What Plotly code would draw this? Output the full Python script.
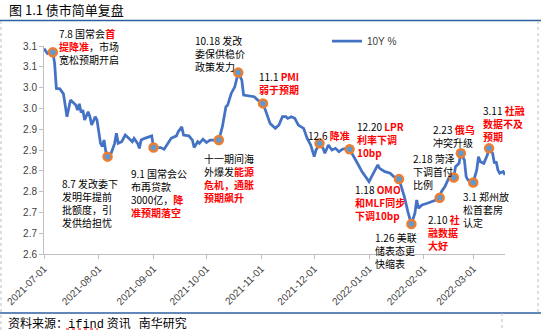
import plotly.graph_objects as go

# ---------------- data ----------------
dates = ["2021-07-01","2021-07-03","2021-07-04","2021-07-06","2021-07-07","2021-07-08","2021-07-10","2021-07-12",
         "2021-07-14","2021-07-16","2021-07-19","2021-07-20","2021-07-21","2021-07-22","2021-07-23","2021-07-24",
         "2021-07-26","2021-07-27","2021-07-28","2021-07-29","2021-07-30","2021-07-31","2021-08-02","2021-08-03",
         "2021-08-04","2021-08-05","2021-08-06","2021-08-07","2021-08-08","2021-08-10","2021-08-11","2021-08-12",
         "2021-08-14","2021-08-16","2021-08-18","2021-08-20","2021-08-21","2021-08-23","2021-08-24","2021-08-25",
         "2021-08-27","2021-08-29","2021-08-31","2021-09-01","2021-09-05","2021-09-07","2021-09-09","2021-09-11",
         "2021-09-14","2021-09-15","2021-09-17","2021-09-18","2021-09-21","2021-09-23","2021-09-24","2021-09-26",
         "2021-09-27","2021-09-29","2021-10-01","2021-10-03","2021-10-08","2021-10-10","2021-10-12","2021-10-13",
         "2021-10-15","2021-10-17","2021-10-19","2021-10-21","2021-10-22","2021-10-25","2021-10-28","2021-10-30",
         "2021-11-02","2021-11-04","2021-11-06","2021-11-09","2021-11-11","2021-11-13","2021-11-15","2021-11-16",
         "2021-11-18","2021-11-20","2021-11-22","2021-11-25","2021-11-27","2021-11-29","2021-12-01","2021-12-02",
         "2021-12-04","2021-12-06","2021-12-07","2021-12-09","2021-12-11","2021-12-13","2021-12-15","2021-12-17",
         "2021-12-19","2021-12-21","2021-12-23","2021-12-26","2021-12-28","2021-12-30","2022-01-01","2022-01-03",
         "2022-01-06","2022-01-07","2022-01-10","2022-01-13","2022-01-15","2022-01-18","2022-01-21","2022-01-23",
         "2022-01-25","2022-01-27","2022-01-28","2022-01-29","2022-01-31","2022-02-03","2022-02-06","2022-02-08",
         "2022-02-10","2022-02-11","2022-02-13","2022-02-16","2022-02-18","2022-02-19","2022-02-21","2022-02-22",
         "2022-02-24","2022-02-25","2022-02-26","2022-03-01","2022-03-03","2022-03-04","2022-03-05","2022-03-07",
         "2022-03-09","2022-03-10","2022-03-12","2022-03-13","2022-03-14","2022-03-15","2022-03-16","2022-03-18",
         "2022-03-19"]
values = [3.094,3.082,3.084,3.085,3.059,2.998,2.997,2.985,
          2.930,2.970,2.958,2.946,2.961,2.940,2.946,2.922,
          2.942,2.930,2.910,2.922,2.930,2.922,2.866,2.858,
          2.874,2.846,2.834,2.830,2.842,2.866,2.890,2.866,
          2.870,2.886,2.878,2.870,2.878,2.866,2.854,2.874,
          2.878,2.881,2.884,2.856,2.856,2.852,2.866,2.878,
          2.884,2.894,2.906,2.886,2.884,2.874,2.856,2.870,
          2.866,2.876,2.868,2.874,2.874,2.906,2.954,2.958,
          2.986,3.002,3.036,3.018,2.982,2.980,2.978,2.970,
          2.962,2.938,2.914,2.902,2.910,2.930,2.930,2.926,
          2.930,2.926,2.910,2.902,2.878,2.862,2.834,2.850,
          2.866,2.854,2.842,2.862,2.850,2.854,2.846,2.852,
          2.854,2.852,2.838,2.814,2.798,2.786,2.774,2.790,
          2.814,2.806,2.798,2.794,2.786,2.780,2.738,2.702,
          2.672,2.698,2.730,2.710,2.718,2.722,2.726,2.730,
          2.735,2.750,2.762,2.790,2.784,2.810,2.818,2.842,
          2.826,2.786,2.778,2.772,2.802,2.834,2.822,2.818,
          2.838,2.854,2.842,2.818,2.822,2.802,2.794,2.798,
          2.790]

event_dates = ["2021-07-06","2021-08-06","2021-09-01","2021-10-08","2021-10-19","2021-11-02","2021-12-04",
               "2021-12-21","2022-01-18","2022-01-25","2022-02-10","2022-02-18","2022-02-22","2022-03-01",
               "2022-03-10"]

y_tickvals = [2.60, 2.65, 2.70, 2.75, 2.80, 2.85, 2.90, 2.95, 3.00, 3.05, 3.10]
y_ticktext = ["2.6", "2.7", "2.7", "2.8", "2.8", "2.9", "2.9", "3.0", "3.0", "3.1", "3.1"]
x_tickvals = ["2021-07-01","2021-08-01","2021-09-01","2021-10-01","2021-11-01","2021-12-01",
              "2022-01-01","2022-02-01","2022-03-01"]
x_ticktext = ["2021-07-01","2021-08-01","2021-09-01","2021-10-01","2021-11-01","2021-12-01",
              "2022-01-01","2022-02-01","2022-03-01"]

series_name = "10Y %"
title_text = "图 1.1 债市简单复盘"
source_text = "资料来源：<span style='font-family:Liberation Mono'>ifind</span> 资讯   南华研究"

def red(s):
    return "<span style='color:#FF0000'><b>" + s + "</b></span>"

notes = [
    ("7.8 国常会" + red("首") + "<br>" + red("提降准") + "，市场<br>宽松预期开启", 58, 32),
    ("8.7 发改委下<br>发明年提前<br>批额度，引<br>发供给担忧", 61, 182),
    ("9.1 国常会公<br>布再贷款<br>3000亿，" + red("降") + "<br>" + red("准预期落空"), 130, 172),
    ("十一期间海<br>外爆发" + red("能源") + "<br>" + red("危机，通胀") + "<br>" + red("预期飙升"), 203, 157),
    ("10.18 发改<br>委保供稳价<br>政策发力", 194, 40),
    ("11.1 " + red("PMI") + "<br>" + red("弱于预期"), 258, 75),
    ("12.6 " + red("降准"), 307, 134),
    ("12.20 " + red("LPR") + "<br>" + red("利率下调") + "<br>" + red("10bp"), 356, 125),
    ("1.18 " + red("OMO") + "<br>" + red("和MLF同步") + "<br>" + red("下调10bp"), 354, 188),
    ("1.26 美联<br>储表态更<br>快缩表", 374, 236),
    ("2.10 " + red("社") + "<br>" + red("融数据") + "<br>" + red("大好"), 427, 218),
    ("2.18 菏泽<br>下调首付<br>比例", 412, 157),
    ("2.23 " + red("俄乌") + "<br>冲突升级", 432, 128),
    ("3.1 郑州放<br>松首套房<br>认定", 462, 195),
    ("3.11 " + red("社融") + "<br>" + red("数据不及") + "<br>" + red("预期"), 482, 109),
]

# ---------------- layout helpers ----------------
W, H = 541, 331
L, R, T, B = 44, 505, 46, 254

def px(x):
    return (x - L) / (R - L)

def py(y):
    return (B - y) / (B - T)

CJK = "Noto Sans CJK SC"
lookup = dict(zip(dates, values))

fig = go.Figure()
fig.add_trace(go.Scatter(
    x=dates, y=values, mode="lines", name=series_name,
    line=dict(color="#4472C4", width=2.75),
))
fig.add_trace(go.Scatter(
    x=event_dates, y=[lookup[d] for d in event_dates], mode="markers", showlegend=False,
    marker=dict(size=8, color="#5B9BD5", line=dict(color="#ED7D31", width=2.5)),
    cliponaxis=False,
))

annotations = []
for text, x, y in notes:
    annotations.append(dict(
        text=text, xref="paper", yref="paper", x=px(x), y=py(y - 7.5),
        xanchor="left", yanchor="top", align="left", showarrow=False,
        font=dict(family=CJK, size=10, color="#000000"), borderpad=0,
    ))
annotations.append(dict(
    text=title_text, xref="paper", yref="paper", x=px(7), y=py(10),
    xanchor="left", yanchor="middle", showarrow=False,
    font=dict(family=CJK, size=13, color="#000000"),
))
annotations.append(dict(
    text=source_text, xref="paper", yref="paper", x=px(6), y=py(323),
    xanchor="left", yanchor="middle", showarrow=False,
    font=dict(family=CJK, size=12, color="#000000"),
))

shapes = [
    dict(type="line", xref="paper", yref="paper", x0=px(0), x1=px(W), y0=py(20.5), y1=py(20.5),
         line=dict(color="#2E5FA1", width=1.5)),
    dict(type="line", xref="paper", yref="paper", x0=px(0), x1=px(W), y0=py(313), y1=py(313),
         line=dict(color="#2E5FA1", width=1.5)),
    dict(type="line", xref="paper", yref="paper", x0=px(1), x1=px(1), y0=py(21), y1=py(331),
         line=dict(color="#BFBFBF", width=1, dash="dot")),
    dict(type="line", xref="paper", yref="paper", x0=px(538), x1=px(538), y0=py(21), y1=py(313),
         line=dict(color="#BFBFBF", width=1, dash="dot")),
    dict(type="line", xref="paper", yref="paper", x0=px(502), x1=px(502), y0=py(313), y1=py(331),
         line=dict(color="#BFBFBF", width=1, dash="dot")),
    dict(type="line", xref="paper", yref="paper", x0=px(66), x1=px(98), y0=py(329), y1=py(329),
         line=dict(color="#FF0000", width=1, dash="dot")),
]

fig.update_layout(
    width=W, height=H,
    margin=dict(l=L, r=W - R, t=T, b=H - B, pad=0, autoexpand=False),
    paper_bgcolor="white", plot_bgcolor="white",
    showlegend=True,
    legend=dict(orientation="h", x=px(327), y=py(41), xanchor="left", yanchor="middle",
                font=dict(family="Liberation Sans", size=10, color="#404040"),
                bgcolor="rgba(0,0,0,0)", borderwidth=0),
    xaxis=dict(type="date", range=["2021-07-01", "2022-03-19"], automargin=False,
               tickmode="array", tickvals=x_tickvals, ticktext=x_ticktext, tickangle=-45,
               ticks="outside", ticklen=4, tickcolor="#BFBFBF",
               showline=True, linecolor="#BFBFBF", linewidth=1, showgrid=False, zeroline=False,
               tickfont=dict(family="Liberation Sans", size=10, color="#404040")),
    yaxis=dict(range=[2.60, 3.10], automargin=False,
               tickmode="array", tickvals=y_tickvals, ticktext=y_ticktext,
               ticks="outside", ticklen=4, tickcolor="#BFBFBF",
               showline=True, linecolor="#BFBFBF", linewidth=1, showgrid=False, zeroline=False,
               tickfont=dict(family="Liberation Sans", size=10, color="#404040")),
    annotations=annotations,
    shapes=shapes,
)

fig.write_html("out.html")
